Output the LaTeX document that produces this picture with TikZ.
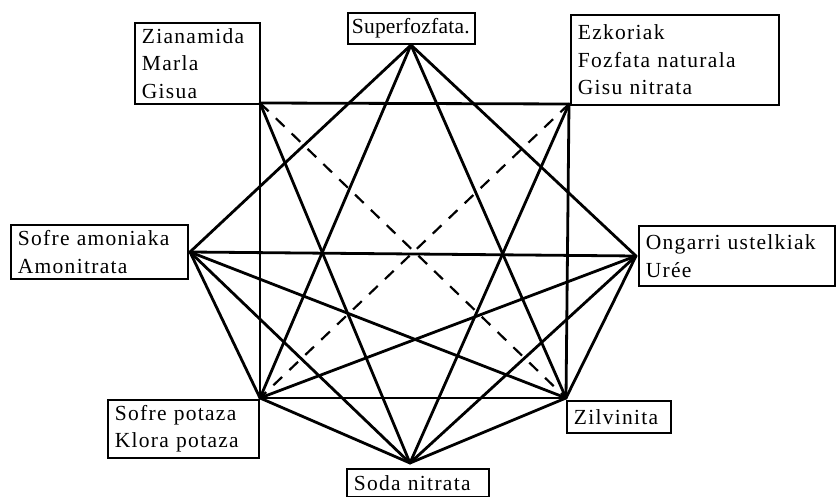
\documentclass[tikz,border=0pt]{standalone}
\usepackage{fontspec}
\setmainfont{Liberation Serif}[LetterSpace=6, WordSpace=2.0]
\newfontfamily\tightserif{Liberation Serif}[LetterSpace=1]
\begin{document}
\begin{tikzpicture}[x=1pt,y=-1pt,
  edge/.style={line width=2.8pt, line cap=round},
  dashedge/.style={line width=2.2pt, dash pattern=on 12pt off 10pt},
  lbl/.style={draw, line width=1.8pt, inner xsep=7pt, inner ysep=0pt, align=left,
    anchor=north west, font=\fontsize{21.5}{27.5}\selectfont}]
\useasboundingbox (0,0) rectangle (836,497);
% label boxes
\node[lbl, text width=111pt, minimum height=81pt] (bTL) at (134,22) {\mbox{Zianamida}\\\mbox{Marla}\\\mbox{Gisua}};
\node[lbl, inner xsep=4pt, text width=119pt, minimum height=31pt] (bT) at (347,12) {\mbox{\tightserif Superfozfata.}};
\node[lbl, text width=194pt, minimum height=90pt] (bTR) at (570,14) {\mbox{Ezkoriak}\\\mbox{Fozfata naturala}\\\mbox{Gisu nitrata}};
\node[lbl, text width=163pt, minimum height=54pt] (bL) at (10,224) {\mbox{Sofre amoniaka}\\\mbox{Amonitrata}};
\node[lbl, text width=182pt, minimum height=60pt] (bR) at (638,225) {\mbox{Ongarri ustelkiak}\\\mbox{Urée}};
\node[lbl, text width=137pt, minimum height=58pt] (bBL) at (107,399) {\mbox{Sofre potaza}\\\mbox{Klora potaza}};
\node[lbl, text width=90pt, minimum height=32pt] (bBR) at (566,400) {\mbox{Zilvinita}};
\node[lbl, text width=128pt, minimum height=28pt] (bB) at (346,468) {\mbox{Soda nitrata}};
% vertices
\coordinate (vT) at (411,45);
\coordinate (vTL) at (260,103);
\coordinate (vTR) at (569,104);
\coordinate (vL) at (190,252);
\coordinate (vR) at (636,256);
\coordinate (vBL) at (260,398);
\coordinate (vBR) at (566,398);
\coordinate (vB) at (410,463);
% solid connectors
\draw[edge] (vTL) -- (vTR);
\draw[edge] (vTL) -- (vBL);
\draw[edge] (vTR) -- (vBR);
\draw[edge] (vBL) -- (vBR);
\draw[edge] (vL) -- (vR);
\draw[edge] (vT) -- (vL);
\draw[edge] (vT) -- (vR);
\draw[edge] (vT) -- (vBL);
\draw[edge] (vT) -- (vBR);
\draw[edge] (vTL) -- (vB);
\draw[edge] (vTR) -- (vB);
\draw[edge] (vL) -- (vBL);
\draw[edge] (vL) -- (vB);
\draw[edge] (vL) -- (vBR);
\draw[edge] (vR) -- (vBR);
\draw[edge] (vR) -- (vB);
\draw[edge] (vR) -- (vBL);
\draw[edge] (vBL) -- (vB);
\draw[edge] (vBR) -- (vB);
% dashed connectors
\draw[dashedge] (vTL) -- (vBR);
\draw[dashedge] (vTR) -- (vBL);
\end{tikzpicture}
\end{document}
